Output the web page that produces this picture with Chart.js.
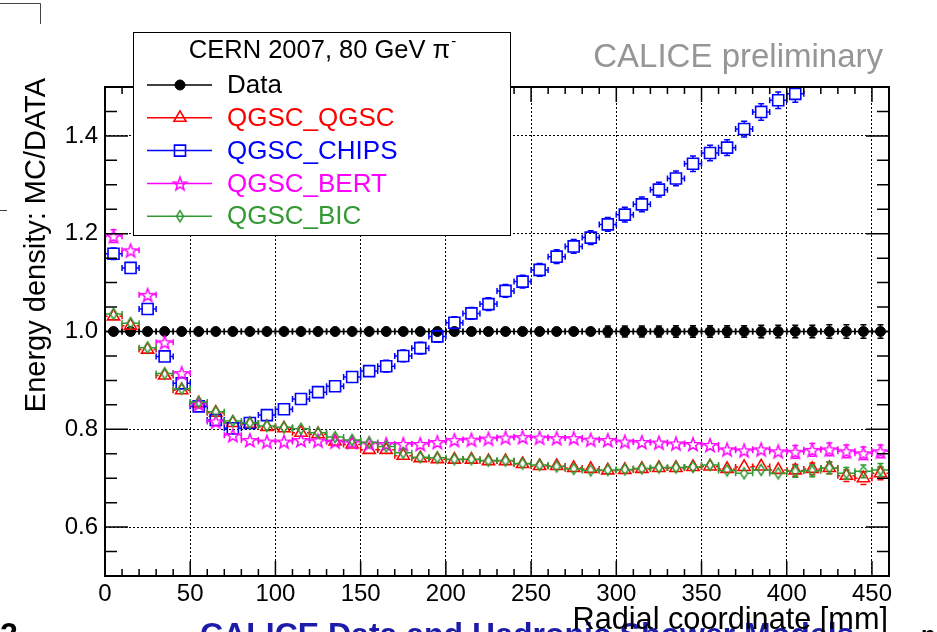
<!DOCTYPE html>
<html>
<head>
<meta charset="utf-8">
<title>Energy density: MC/DATA</title>
<script src="https://cdn.jsdelivr.net/npm/chart.js@4.4.1/dist/chart.umd.min.js"></script>
<style>
  html, body { margin: 0; padding: 0; background: #fff; }
  #wrap { width: 937px; height: 632px; position: relative; overflow: hidden; }
</style>
</head>
<body>
<div id="wrap"><canvas id="ratioChart"></canvas></div>
<script>
// radial bin centres [mm], every bin is 10 mm wide
const radialBins = [5, 15, 25, 35, 45, 55, 65, 75, 85, 95,
    105, 115, 125, 135, 145, 155, 165, 175, 185, 195,
    205, 215, 225, 235, 245, 255, 265, 275, 285, 295,
    305, 315, 325, 335, 345, 355, 365, 375, 385, 395,
    405, 415, 425, 435, 445, 455];
const binHalfWidth = 5;

const dataRatio = [1.0, 1.0, 1.0, 1.0, 1.0, 1.0, 1.0, 1.0, 1.0, 1.0,
    1.0, 1.0, 1.0, 1.0, 1.0, 1.0, 1.0, 1.0, 1.0, 1.0,
    1.0, 1.0, 1.0, 1.0, 1.0, 1.0, 1.0, 1.0, 1.0, 1.0,
    1.0, 1.0, 1.0, 1.0, 1.0, 1.0, 1.0, 1.0, 1.0, 1.0,
    1.0, 1.0, 1.0, 1.0, 1.0, 1.0];
const dataErr = [0.004, 0.004, 0.004, 0.004, 0.005, 0.005, 0.005, 0.005, 0.006, 0.006,
    0.006, 0.006, 0.007, 0.007, 0.007, 0.007, 0.008, 0.008, 0.008, 0.008,
    0.009, 0.009, 0.009, 0.009, 0.010, 0.010, 0.010, 0.010, 0.010, 0.011,
    0.011, 0.011, 0.011, 0.012, 0.012, 0.012, 0.012, 0.012, 0.013, 0.013,
    0.013, 0.013, 0.014, 0.014, 0.014, 0.014];

const qgscRatio = [1.031, 1.012, 0.963, 0.910, 0.880, 0.853, 0.834, 0.813, 0.811, 0.805,
    0.802, 0.793, 0.790, 0.775, 0.769, 0.758, 0.758, 0.746, 0.741, 0.739,
    0.738, 0.738, 0.735, 0.735, 0.729, 0.725, 0.725, 0.721, 0.719, 0.716,
    0.717, 0.719, 0.721, 0.721, 0.723, 0.724, 0.719, 0.723, 0.724, 0.717,
    0.716, 0.719, 0.721, 0.705, 0.700, 0.710];
const qgscErr = [0.011, 0.011, 0.010, 0.010, 0.009, 0.009, 0.009, 0.009, 0.008, 0.008,
    0.008, 0.008, 0.008, 0.008, 0.008, 0.008, 0.008, 0.008, 0.008, 0.008,
    0.009, 0.009, 0.009, 0.009, 0.009, 0.009, 0.009, 0.009, 0.010, 0.010,
    0.010, 0.010, 0.010, 0.010, 0.011, 0.011, 0.011, 0.011, 0.011, 0.011,
    0.012, 0.012, 0.012, 0.012, 0.013, 0.013];

// CHIPS leaves the frame above 1.5 after 405 mm
const chipsRatio = [1.159, 1.130, 1.046, 0.949, 0.894, 0.847, 0.819, 0.802, 0.813, 0.829,
    0.841, 0.862, 0.876, 0.888, 0.907, 0.919, 0.929, 0.950, 0.966, 0.990,
    1.018, 1.037, 1.056, 1.083, 1.102, 1.126, 1.153, 1.174, 1.192, 1.219,
    1.239, 1.260, 1.290, 1.313, 1.343, 1.365, 1.376, 1.414, 1.449, 1.473,
    1.486, null, null, null, null, null];
const chipsErr = [0.012, 0.011, 0.010, 0.010, 0.010, 0.010, 0.010, 0.010, 0.010, 0.010,
    0.011, 0.011, 0.011, 0.011, 0.011, 0.011, 0.012, 0.012, 0.012, 0.012,
    0.012, 0.012, 0.013, 0.013, 0.013, 0.013, 0.014, 0.014, 0.014, 0.014,
    0.015, 0.015, 0.015, 0.015, 0.016, 0.016, 0.016, 0.016, 0.017, 0.017,
    0.017, null, null, null, null, null];

const bertRatio = [1.195, 1.166, 1.075, 0.978, 0.915, 0.852, 0.816, 0.788, 0.778, 0.775,
    0.775, 0.778, 0.777, 0.775, 0.774, 0.771, 0.770, 0.770, 0.770, 0.774,
    0.778, 0.779, 0.781, 0.783, 0.784, 0.783, 0.782, 0.782, 0.779, 0.778,
    0.775, 0.774, 0.773, 0.771, 0.770, 0.768, 0.759, 0.757, 0.759, 0.755,
    0.754, 0.758, 0.759, 0.755, 0.751, 0.755];
const bertErr = [0.013, 0.012, 0.011, 0.011, 0.010, 0.010, 0.010, 0.009, 0.009, 0.009,
    0.009, 0.009, 0.009, 0.009, 0.009, 0.009, 0.009, 0.009, 0.009, 0.009,
    0.010, 0.010, 0.010, 0.010, 0.010, 0.010, 0.010, 0.010, 0.011, 0.011,
    0.011, 0.011, 0.011, 0.011, 0.012, 0.012, 0.012, 0.012, 0.012, 0.012,
    0.013, 0.013, 0.013, 0.013, 0.013, 0.013];

const bicRatio = [1.036, 1.017, 0.967, 0.914, 0.883, 0.856, 0.836, 0.817, 0.813, 0.807,
    0.804, 0.801, 0.793, 0.784, 0.778, 0.773, 0.765, 0.752, 0.743, 0.742,
    0.739, 0.739, 0.736, 0.736, 0.730, 0.727, 0.724, 0.719, 0.716, 0.717,
    0.718, 0.720, 0.722, 0.722, 0.723, 0.727, 0.716, 0.710, 0.717, 0.710,
    0.714, 0.715, 0.721, 0.710, 0.714, 0.717];
const bicErr = [0.011, 0.011, 0.010, 0.010, 0.009, 0.009, 0.009, 0.009, 0.008, 0.008,
    0.008, 0.008, 0.008, 0.008, 0.008, 0.008, 0.008, 0.008, 0.008, 0.008,
    0.009, 0.009, 0.009, 0.009, 0.009, 0.009, 0.009, 0.009, 0.010, 0.010,
    0.010, 0.010, 0.010, 0.010, 0.011, 0.011, 0.011, 0.011, 0.011, 0.011,
    0.012, 0.012, 0.012, 0.012, 0.013, 0.013];

const xTickValues = [0, 50, 100, 150, 200, 250, 300, 350, 400, 450];
const yTickValues = [0.6, 0.8, 1.0, 1.2, 1.4];
const yTickLabels = ['0.6', '0.8', '1.0', '1.2', '1.4'];

const FONT = '"Liberation Sans", Arial, Helvetica, sans-serif';
const GREEN = '#339933';

// open star and open diamond like ROOT markers 30 / 27
function starMarker(color) {
    const c = document.createElement('canvas');
    c.width = 18; c.height = 18;
    const g = c.getContext('2d');
    g.strokeStyle = color;
    g.lineWidth = 1.5;
    g.beginPath();
    for (let k = 0; k < 10; k++) {
        const r = k % 2 === 0 ? 7 : 2.9;
        const a = -Math.PI / 2 + k * Math.PI / 5;
        const px = 9 + r * Math.cos(a), py = 9.8 + r * Math.sin(a);
        if (k === 0) g.moveTo(px, py); else g.lineTo(px, py);
    }
    g.closePath();
    g.stroke();
    return c;
}
function diamondMarker(color) {
    const c = document.createElement('canvas');
    c.width = 18; c.height = 18;
    const g = c.getContext('2d');
    g.strokeStyle = color;
    g.lineWidth = 1.5;
    g.beginPath();
    g.moveTo(9, 3.5); g.lineTo(12.5, 9); g.lineTo(9, 14.5); g.lineTo(5.5, 9);
    g.closePath();
    g.stroke();
    return c;
}

function series(values, errors) {
    return radialBins
        .map((x, i) => ({ x: x, y: values[i], err: errors[i] }))
        .filter(p => p.y !== null);
}

// marker half sizes (px) so bars stop at the marker edge
const markerGap = [
    { w: 5, h: 5 },
    { w: 6, h: 5.5 },
    { w: 5.5, h: 5.5 },
    { w: 6.5, h: 6 },
    { w: 3.5, h: 5.5 }
];

const errorBars = {
    id: 'errorBars',
    beforeDatasetDraw(chart, args) {
        const ds = chart.data.datasets[args.index];
        const xs = chart.scales.x, ys = chart.scales.y;
        const area = chart.chartArea;
        const ctx = chart.ctx;
        const gap = markerGap[args.index];
        const cap = 3;
        ctx.save();
        ctx.beginPath();
        ctx.rect(area.left, area.top, area.right - area.left, area.bottom - area.top);
        ctx.clip();
        ctx.strokeStyle = ds.borderColor;
        ctx.lineWidth = 1.5;
        ds.data.forEach(p => {
            const px = xs.getPixelForValue(p.x);
            const py = ys.getPixelForValue(p.y);
            const x1 = xs.getPixelForValue(p.x - binHalfWidth);
            const x2 = xs.getPixelForValue(p.x + binHalfWidth);
            const y1 = ys.getPixelForValue(p.y + p.err);
            const y2 = ys.getPixelForValue(p.y - p.err);
            ctx.beginPath();
            ctx.moveTo(x1, py); ctx.lineTo(px - gap.w, py);
            ctx.moveTo(px + gap.w, py); ctx.lineTo(x2, py);
            ctx.moveTo(x1, py - cap); ctx.lineTo(x1, py + cap);
            ctx.moveTo(x2, py - cap); ctx.lineTo(x2, py + cap);
            if (py - y1 > gap.h) {
                ctx.moveTo(px, y1); ctx.lineTo(px, py - gap.h);
                ctx.moveTo(px, py + gap.h); ctx.lineTo(px, y2);
                ctx.moveTo(px - cap, y1); ctx.lineTo(px + cap, y1);
                ctx.moveTo(px - cap, y2); ctx.lineTo(px + cap, y2);
            }
            ctx.stroke();
        });
        ctx.restore();
    }
};

const decorations = {
    id: 'decorations',
    afterDraw(chart) {
        const ctx = chart.ctx;
        const a = chart.chartArea;
        const xs = chart.scales.x, ys = chart.scales.y;
        ctx.save();

        // frame + inner ticks
        ctx.strokeStyle = '#000';
        ctx.lineWidth = 2;
        ctx.strokeRect(a.left, a.top, a.right - a.left, a.bottom - a.top);
        ctx.lineWidth = 1.5;
        ctx.beginPath();
        for (let v = 0; v <= 460; v += 10) {
            const px = xs.getPixelForValue(v);
            const len = v % 50 === 0 ? 15 : 7;
            ctx.moveTo(px, a.bottom); ctx.lineTo(px, a.bottom - len);
            ctx.moveTo(px, a.top); ctx.lineTo(px, a.top + len);
        }
        for (let k = 11; k <= 29; k++) {
            const v = k * 0.05;
            const py = ys.getPixelForValue(v);
            const len = k % 4 === 0 ? 23 : 12;
            ctx.moveTo(a.left, py); ctx.lineTo(a.left + len, py);
            ctx.moveTo(a.right, py); ctx.lineTo(a.right - len, py);
        }
        ctx.stroke();

        // cut-off slide text along the bottom edge
        ctx.fillStyle = '#1c1ca8';
        ctx.font = 'bold 32px ' + FONT;
        ctx.textAlign = 'left';
        ctx.textBaseline = 'alphabetic';
        ctx.fillText('CALICE Data and Hadronic Shower Models', 200, 645);
        ctx.fillStyle = '#000';
        ctx.fillText('2', 0, 645);
        ctx.font = 'bold 24px ' + FONT;
        ctx.fillText('n', 921, 643);

        // axis titles
        ctx.font = '30.7px ' + FONT;
        ctx.textAlign = 'right';
        ctx.fillText('Radial coordinate [mm]', 888, 629);

        ctx.save();
        ctx.translate(45, 78);
        ctx.rotate(-Math.PI / 2);
        ctx.font = '29px ' + FONT;
        ctx.textAlign = 'right';
        ctx.fillText('Energy density: MC/DATA', 0, 0);
        ctx.restore();

        ctx.fillStyle = '#969696';
        ctx.font = '33px ' + FONT;
        ctx.textAlign = 'right';
        ctx.fillText('CALICE preliminary', 883, 67);

        // leftover frame pieces at the page edge
        ctx.strokeStyle = '#444';
        ctx.lineWidth = 1;
        ctx.beginPath();
        ctx.moveTo(0, 3.5); ctx.lineTo(40.5, 3.5); ctx.lineTo(40.5, 24);
        ctx.moveTo(0, 210.5); ctx.lineTo(7, 210.5);
        ctx.stroke();

        // legend
        ctx.fillStyle = '#fff';
        ctx.fillRect(133, 32, 377, 203);
        ctx.strokeStyle = '#000';
        ctx.lineWidth = 1;
        ctx.strokeRect(133.5, 32.5, 377, 203);

        ctx.fillStyle = '#000';
        ctx.font = '25.5px ' + FONT;
        ctx.textAlign = 'left';
        const head = 'CERN 2007, 80 GeV \u03c0';
        const wHead = ctx.measureText(head).width;
        ctx.font = '15px ' + FONT;
        const wSup = ctx.measureText('-').width;
        const hx = 322 - (wHead + wSup) / 2;
        ctx.font = '25.5px ' + FONT;
        ctx.fillText(head, hx, 58);
        ctx.font = '15px ' + FONT;
        ctx.fillText('-', hx + wHead + 1, 46);

        chart.data.datasets.forEach((ds, i) => {
            const cy = 85 + 32.8 * i;
            ctx.strokeStyle = ds.borderColor;
            ctx.lineWidth = 1.5;
            ctx.beginPath();
            ctx.moveTo(147, cy); ctx.lineTo(212, cy);
            ctx.stroke();
            ctx.fillStyle = ds.pointBackgroundColor;
            ctx.strokeStyle = ds.borderColor;
            ctx.lineWidth = ds.pointBorderWidth;
            Chart.helpers.drawPoint(ctx, {
                pointStyle: ds.pointStyle,
                radius: ds.pointRadius,
                rotation: 0,
                borderWidth: ds.pointBorderWidth
            }, 180, cy);
            ctx.fillStyle = ds.labelColor;
            ctx.font = '26px ' + FONT;
            ctx.textBaseline = 'middle';
            ctx.fillText(ds.label, 227, cy + 1);
            ctx.textBaseline = 'alphabetic';
        });
        ctx.restore();
    }
};

const ctx = document.getElementById('ratioChart').getContext('2d');
const ratioChart = new Chart(ctx, {
    type: 'scatter',
    data: {
        datasets: [{
            label: 'Data',
            data: series(dataRatio, dataErr),
            borderColor: '#000',
            labelColor: '#000',
            pointStyle: 'circle',
            pointRadius: 5,
            pointBackgroundColor: '#000',
            pointBorderColor: '#000',
            pointBorderWidth: 1,
            order: 5
        }, {
            label: 'QGSC_QGSC',
            data: series(qgscRatio, qgscErr),
            borderColor: '#ff0000',
            labelColor: '#ff0000',
            pointStyle: 'triangle',
            pointRadius: 7,
            pointBackgroundColor: 'rgba(0,0,0,0)',
            pointBorderColor: '#ff0000',
            pointBorderWidth: 1.6,
            order: 4
        }, {
            label: 'QGSC_CHIPS',
            data: series(chipsRatio, chipsErr),
            borderColor: '#0000ff',
            labelColor: '#0000ff',
            pointStyle: 'rect',
            pointRadius: 7.8,
            pointBackgroundColor: 'rgba(0,0,0,0)',
            pointBorderColor: '#0000ff',
            pointBorderWidth: 1.6,
            order: 3
        }, {
            label: 'QGSC_BERT',
            data: series(bertRatio, bertErr),
            borderColor: '#ff00ff',
            labelColor: '#ff00ff',
            pointStyle: starMarker('#ff00ff'),
            pointRadius: 7,
            pointBackgroundColor: 'rgba(0,0,0,0)',
            pointBorderColor: '#ff00ff',
            pointBorderWidth: 1.5,
            order: 2
        }, {
            label: 'QGSC_BIC',
            data: series(bicRatio, bicErr),
            borderColor: GREEN,
            labelColor: GREEN,
            pointStyle: diamondMarker(GREEN),
            pointRadius: 6,
            pointBackgroundColor: 'rgba(0,0,0,0)',
            pointBorderColor: GREEN,
            pointBorderWidth: 1.5,
            order: 1
        }]
    },
    options: {
        responsive: true,
        maintainAspectRatio: false,
        animation: false,
        events: [],
        layout: { padding: { left: 0, right: 48, top: 87, bottom: 0 } },
        plugins: {
            legend: { display: false },
            tooltip: { enabled: false }
        },
        scales: {
            x: {
                type: 'linear',
                min: 0,
                max: 460,
                afterBuildTicks: s => { s.ticks = xTickValues.map(v => ({ value: v })); },
                afterFit: s => { s.height = 56; },
                grid: { color: '#000', lineWidth: 1, drawTicks: false },
                border: { display: false, dash: [2, 2] },
                ticks: {
                    color: '#000',
                    font: { family: FONT, size: 24 },
                    padding: 4,
                    autoSkip: false,
                    maxRotation: 0,
                    callback: v => String(v)
                }
            },
            y: {
                type: 'linear',
                min: 0.5,
                max: 1.5,
                afterBuildTicks: s => { s.ticks = yTickValues.map(v => ({ value: v })); },
                afterFit: s => { s.width = 105; },
                grid: { color: '#000', lineWidth: 1, drawTicks: false },
                border: { display: false, dash: [2, 2] },
                ticks: {
                    color: '#000',
                    font: { family: FONT, size: 24 },
                    padding: 7,
                    autoSkip: false,
                    callback: v => yTickLabels[yTickValues.indexOf(v)]
                }
            }
        }
    },
    plugins: [errorBars, decorations]
});
</script>
</body>
</html>
